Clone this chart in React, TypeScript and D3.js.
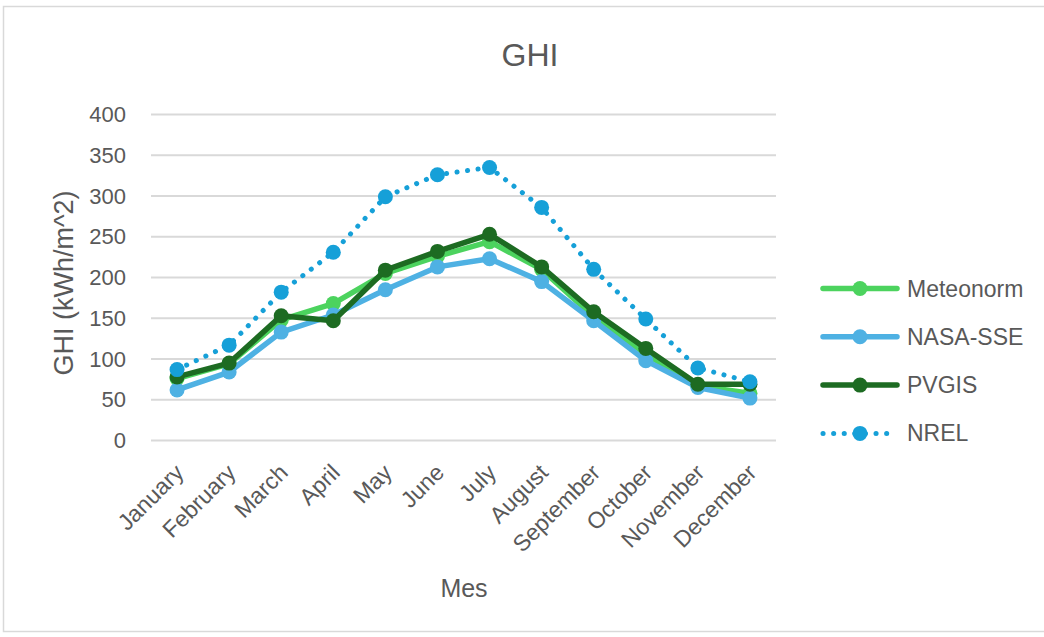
import React from "react";
import * as d3 from "d3";

const months = ["January","February","March","April","May","June","July","August","September","October","November","December"];
const meteonorm = [76, 94, 148, 168, 205, 226, 244, 210, 152, 106, 67, 58];
const nasaSse = [62, 84, 133, 154, 185, 213, 223, 195, 147, 98, 65, 52];
const pvgis = [78, 95, 153, 147, 209, 232, 253, 213, 158, 113, 69, 69];
const nrel = [87, 117, 182, 231, 299, 326, 335, 286, 210, 149, 89, 72];
const yTicks = [0, 50, 100, 150, 200, 250, 300, 350, 400];

const seriesNames = ["Meteonorm", "NASA-SSE", "PVGIS", "NREL"];
const seriesColors = ["#4CD35E", "#4EB1E3", "#1D6B22", "#16A0D8"];
const seriesData = [meteonorm, nasaSse, pvgis, nrel];

const W = 1044, H = 637;
const FONT = "'Liberation Sans', Arial, sans-serif";
const TXT = "#595959";

export default function App() {
  const x = d3.scaleBand<string>().domain(months).range([151, 776]);
  const y = d3.scaleLinear().domain([0, 400]).range([440.5, 114.5]);
  const cx = (m: string) => (x(m) ?? 0) + x.bandwidth() / 2;
  const line = d3.line<number>().x((_, i) => cx(months[i])).y((d) => y(d));

  return (
    <svg width={W} height={H} style={{ position: "absolute", left: 0, top: 0, background: "#fff" }} fontFamily={FONT}>
      <rect x={3.5} y={6.5} width={1045} height={625} fill="#fff" stroke="#d9d9d9" strokeWidth={1.5} />
      <text x={530} y={66} textAnchor="middle" fontSize={32} fill={TXT}>GHI</text>
      {yTicks.map((t) => (
        <g key={t}>
          <line x1={151} x2={776} y1={y(t)} y2={y(t)} stroke="#d9d9d9" strokeWidth={2} />
          <text x={126} y={y(t)} dy="0.35em" textAnchor="end" fontSize={22} fill={TXT}>{t}</text>
        </g>
      ))}
      <text transform={`translate(73,${283}) rotate(-90)`} textAnchor="middle" fontSize={27} fill={TXT}>GHI (kWh/m^2)</text>
      {months.map((m) => (
        <text key={m} transform={`translate(${cx(m) + 8},${474}) rotate(-45)`} textAnchor="end" fontSize={23} fill={TXT}>{m}</text>
      ))}
      <text x={464} y={597} textAnchor="middle" fontSize={25} fill={TXT}>Mes</text>
      {seriesData.map((data, si) => {
        const dotted = si === 3;
        return (
          <g key={si}>
            <path d={line(data) ?? ""} fill="none" stroke={seriesColors[si]} strokeWidth={dotted ? 5 : 5.5}
              strokeLinecap="round" strokeLinejoin="round" strokeDasharray={dotted ? "0.1 10.5" : undefined} />
            {data.map((v, i) => (
              <circle key={i} cx={cx(months[i])} cy={y(v)} r={7.5} fill={seriesColors[si]} />
            ))}
          </g>
        );
      })}
      {seriesNames.map((n, i) => {
        const ly = 288.5 + i * 48.3;
        const dotted = i === 3;
        return (
          <g key={n}>
            <line x1={823} x2={897} y1={ly} y2={ly} stroke={seriesColors[i]} strokeWidth={dotted ? 5 : 5.5}
              strokeLinecap="round" strokeDasharray={dotted ? "0.1 10.5" : undefined} />
            <circle cx={860} cy={ly} r={7.5} fill={seriesColors[i]} />
            <text x={907} y={ly} dy="0.35em" fontSize={23} fill={TXT}>{n}</text>
          </g>
        );
      })}
    </svg>
  );
}
